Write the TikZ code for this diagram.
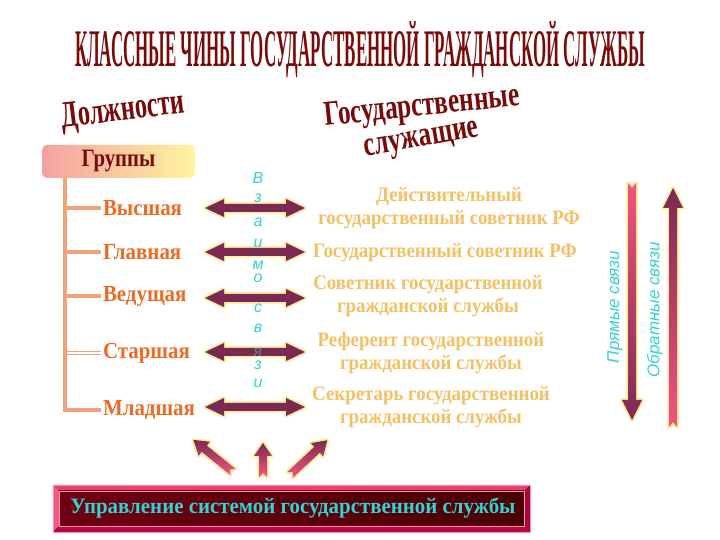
\documentclass[tikz,border=0pt]{standalone}
\usepackage{fontspec}
\usepackage{graphicx}
\setmainfont{Liberation Serif}
\setsansfont{Liberation Sans}
\usetikzlibrary{calc}
\definecolor{titlered}{HTML}{7A0A0A}
\definecolor{grporange}{HTML}{EE6A22}
\definecolor{rankc}{HTML}{F5C062}
\definecolor{cyanc}{HTML}{33D3CF}
\definecolor{treec}{HTML}{F0A27A}
\definecolor{arrdark}{HTML}{7A2A52}
\definecolor{arrpink}{HTML}{F2557F}
\definecolor{glowc}{HTML}{FFEC9A}
\definecolor{boxpink}{HTML}{F4A0A0}
\definecolor{boxyellow}{HTML}{FFF49E}
\definecolor{framec}{HTML}{D8124E}
\definecolor{innerdark}{HTML}{4A0006}
\definecolor{innermid}{HTML}{6E0014}
\definecolor{bevtop}{HTML}{E84070}
\definecolor{bevleft}{HTML}{F05A82}
\definecolor{bevbot}{HTML}{B80A3E}
\definecolor{bevright}{HTML}{A8083A}
\definecolor{bevline}{HTML}{FF8FB0}
\tikzset{
  grplabel/.style={anchor=west, inner sep=2pt, text=grporange, xscale=0.91, font=\fontsize{23}{26}\selectfont\bfseries},
  ranktext/.style={align=center, inner sep=1pt, text=rankc, xscale=0.92, font=\fontsize{20.5}{23}\selectfont\bfseries},
  vletter/.style={inner sep=0pt, text=cyanc, font=\sffamily\itshape\fontsize{16}{16}\selectfont},
  vtext/.style={rotate=90, inner sep=0pt, text=cyanc, font=\sffamily\itshape\fontsize{17}{20}\selectfont},
  branch/.style={draw=treec, line width=3.5pt},
  glow/.style={draw=glowc, line width=3.5pt, line join=round},
  dblarr/.pic={
    \path[glow] (-50,0) -- (-31,9) -- (-31,4) -- (31,4) -- (31,9) -- (50,0) -- (31,-9) -- (31,-4) -- (-31,-4) -- (-31,-9) -- cycle;
    \shade[left color=arrdark, middle color=arrpink, right color=arrdark] (-50,0) -- (-31,9) -- (-31,4) -- (31,4) -- (31,9) -- (50,0) -- (31,-9) -- (31,-4) -- (-31,-4) -- (-31,-9) -- cycle;
  }
}
\begin{document}
\begin{tikzpicture}[x=1pt,y=1pt]
\fill[white] (0,0) rectangle (720,540);
\useasboundingbox (0,0) rectangle (720,540);

% title
\node[text=titlered, anchor=base, inner sep=0pt] (title) at (360,473)
  {\resizebox{570pt}{45pt}{\bfseries КЛАССНЫЕ ЧИНЫ ГОСУДАРСТВЕННОЙ ГРАЖДАНСКОЙ СЛУЖБЫ}};

% headings
\node[text=titlered, rotate=7, inner sep=0pt] (dolzh) at (123,428)
  {\scalebox{0.66}[1]{\fontsize{37}{40}\selectfont\bfseries Должности}};
\node[text=titlered, rotate=6, inner sep=0pt] (gos1) at (422,432)
  {\scalebox{0.72}[1]{\fontsize{35}{40}\selectfont\bfseries Государственные}};
\node[text=titlered, rotate=10, inner sep=0pt] (gos2) at (422,398)
  {\scalebox{0.72}[1]{\fontsize{35}{40}\selectfont\bfseries служащие}};

% groups box
\node[rounded corners=5pt, left color=boxpink, right color=boxyellow, minimum width=153pt, minimum height=33pt,
  text=titlered, font=\fontsize{25}{28}\selectfont\bfseries] (grp) at (118.5,378.5) {\scalebox{0.83}[1]{Группы}};

% group labels
\node[grplabel] (g1) at (101,332) {Высшая};
\node[grplabel] (g2) at (101,288) {Главная};
\node[grplabel] (g3) at (101,244) {Ведущая};
\node[grplabel] (g4) at (101,187) {Старшая};
\node[grplabel] (g5) at (101,130) {Младшая};

% tree
\coordinate (trunk) at (65,362);
\coordinate (trunkend) at (65,128);
\draw[branch] (trunk) -- (trunkend);
\draw[branch] (trunk |- g1.west) -- (g1.west);
\draw[branch] (trunk |- g2.west) -- (g2.west);
\draw[branch] (trunk |- g3.west) -- (g3.west);
\draw[treec, line width=0.9pt] ($(trunk |- g4.west)+(0,1.5)$) -- ($(g4.west)+(0,1.5)$);
\draw[treec, line width=0.9pt] ($(trunk |- g4.west)+(0,-1.5)$) -- ($(g4.west)+(0,-1.5)$);
\draw[branch] (trunk |- g5.west) -- (g5.west);

% double arrows
\pic at (255,332) {dblarr};
\pic at (255,288) {dblarr};
\pic at (255,242) {dblarr};
\pic at (255,188) {dblarr};
\pic at (255,133) {dblarr};

% vertical word
\foreach \ch/\yy [count=\i] in {В/362, з/342, а/318, и/297, м/275, о/262, с/232, в/212, з/175, и/157}
  \node[vletter] (vl\i) at (258,\yy) {\ch};
\node[vletter, opacity=0.55] (vlya) at (258,188) {я};

% ranks
\node[ranktext] (r1) at (449,331.5) {Действительный\\государственный советник РФ};
\node[ranktext] (r2) at (445,287) {Государственный советник РФ};
\node[ranktext] (r3) at (428,243.5) {Советник государственной\\гражданской службы};
\node[ranktext] (r4) at (431,186.5) {Референт государственной\\гражданской службы};
\node[ranktext] (r5) at (431,132.5) {Секретарь государственной\\гражданской службы};

% vertical arrows
\path[glow] (628,357) -- (632,352) -- (636,357) -- (636,140) -- (642,140) -- (632,120) -- (622,140) -- (628,140) -- cycle;
\shade[top color=arrpink, bottom color=arrdark] (628,357) -- (632,352) -- (636,357) -- (636,140) -- (642,140) -- (632,120) -- (622,140) -- (628,140) -- cycle;
\path[glow] (669,113) -- (673,118) -- (677,113) -- (677,332) -- (683,332) -- (673,352) -- (663,332) -- (669,332) -- cycle;
\shade[top color=arrdark, bottom color=arrpink] (669,113) -- (673,118) -- (677,113) -- (677,332) -- (683,332) -- (673,352) -- (663,332) -- (669,332) -- cycle;
\node[vtext] (pr) at (615,233) {Прямые связи};
\node[vtext] (ob) at (655,230) {Обратные связи};

% bottom box
\fill[framec] (53,8) rectangle (530,55);
\fill[bevtop] (53,55) -- (530,55) -- (524,49) -- (59,49) -- cycle;
\fill[bevleft] (53,55) -- (59,49) -- (59,14) -- (53,8) -- cycle;
\fill[bevbot] (53,8) -- (530,8) -- (524,14) -- (59,14) -- cycle;
\fill[bevright] (530,8) -- (530,55) -- (524,49) -- (524,14) -- cycle;
\shade[left color=innermid, right color=innerdark] (59,14) rectangle (524,49);
\draw[bevline, line width=0.8pt] (53,8) rectangle (530,55);
\draw[bevline, line width=0.5pt] (59,14) rectangle (524,49);
\node[text=cyanc, font=\fontsize{22}{24}\selectfont\bfseries] (ctrl) at (293,31.5) {\scalebox{0.95}[1]{Управление системой государственной службы}};

% bottom arrows
\begin{scope}[shift={(233,68)}, rotate=141]
  \path[glow] (0,-4) -- (37,-4) -- (37,-9) -- (51,0) -- (37,9) -- (37,4) -- (0,4) -- (4,0) -- cycle;
  \shade[top color=arrdark, bottom color=arrpink] (0,-4) -- (37,-4) -- (37,-9) -- (51,0) -- (37,9) -- (37,4) -- (0,4) -- (4,0) -- cycle;
\end{scope}
\begin{scope}[shift={(263,63)}, rotate=90]
  \path[glow] (0,-4) -- (21,-4) -- (21,-9) -- (34,0) -- (21,9) -- (21,4) -- (0,4) -- (4,0) -- cycle;
  \shade[top color=arrdark, bottom color=arrpink] (0,-4) -- (21,-4) -- (21,-9) -- (34,0) -- (21,9) -- (21,4) -- (0,4) -- (4,0) -- cycle;
\end{scope}
\begin{scope}[shift={(290,65)}, rotate=43]
  \path[glow] (0,-4) -- (37,-4) -- (37,-9) -- (51,0) -- (37,9) -- (37,4) -- (0,4) -- (4,0) -- cycle;
  \shade[top color=arrdark, bottom color=arrpink] (0,-4) -- (37,-4) -- (37,-9) -- (51,0) -- (37,9) -- (37,4) -- (0,4) -- (4,0) -- cycle;
\end{scope}
\end{tikzpicture}
\end{document}
